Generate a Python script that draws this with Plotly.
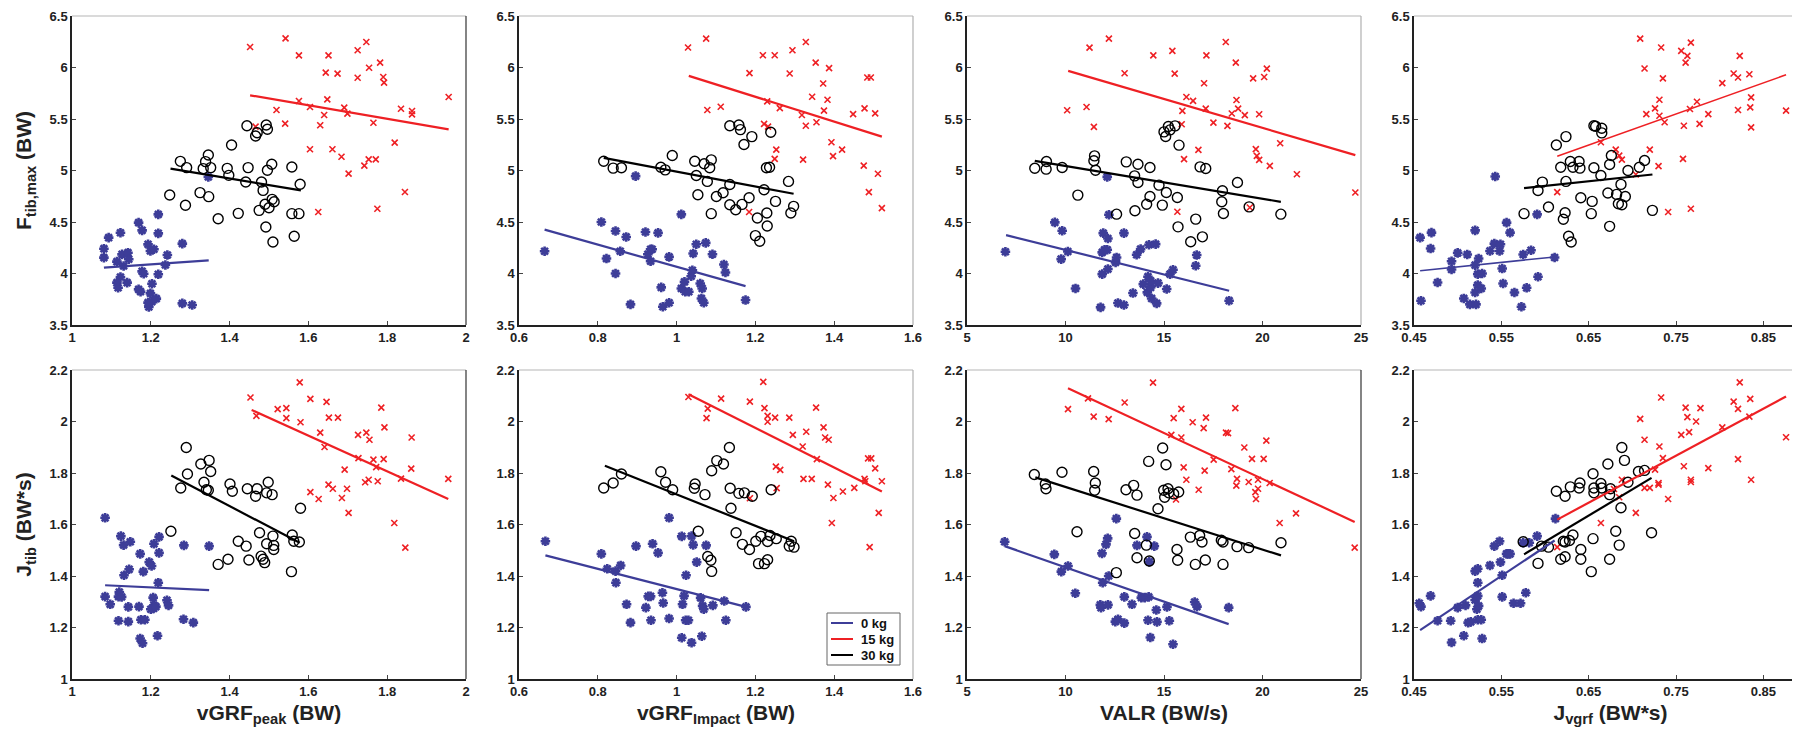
import plotly.graph_objects as go

# ---------------- tick labels ----------------
X_TICKS = [
    ([1, 1.2, 1.4, 1.6, 1.8, 2], ["1", "1.2", "1.4", "1.6", "1.8", "2"]),
    ([0.6, 0.8, 1, 1.2, 1.4, 1.6], ["0.6", "0.8", "1", "1.2", "1.4", "1.6"]),
    ([5, 10, 15, 20, 25], ["5", "10", "15", "20", "25"]),
    ([0.45, 0.55, 0.65, 0.75, 0.85], ["0.45", "0.55", "0.65", "0.75", "0.85"]),
]
X_RANGES = [[1, 2], [0.6, 1.6], [5, 25], [0.45, 0.9]]
Y_TICKS = [
    ([3.5, 4, 4.5, 5, 5.5, 6, 6.5], ["3.5", "4", "4.5", "5", "5.5", "6", "6.5"]),
    ([1, 1.2, 1.4, 1.6, 1.8, 2, 2.2], ["1", "1.2", "1.4", "1.6", "1.8", "2", "2.2"]),
]
Y_RANGES = [[3.5, 6.5], [1, 2.2]]
X_TITLES = ["vGRF<sub>peak</sub> (BW)", "vGRF<sub>Impact</sub> (BW)", "VALR (BW/s)", "J<sub>vgrf</sub> (BW*s)"]
Y_TITLES = ["F<sub>tib,max</sub> (BW)", "J<sub>tib</sub> (BW*s)"]
GROUPS = ["0 kg", "15 kg", "30 kg"]

# ---------------- data: (x, y) pairs per panel & group ----------------
# Panel A: vGRF_peak vs F_tib,max
A_0kg = [(1.081,4.241),(1.081,4.154),(1.093,4.348),(1.123,4.396),(1.127,4.186),(1.114,4.115),(1.142,4.202),
         (1.144,4.138),(1.123,3.966),(1.114,3.911),(1.117,3.862),(1.140,3.911),(1.131,4.073),(1.169,4.494),
         (1.178,4.419),(1.193,4.283),(1.199,4.218),(1.208,4.235),(1.219,4.390),(1.219,4.574),(1.178,4.021),
         (1.182,3.998),(1.169,3.846),(1.174,3.824),(1.203,3.901),(1.199,3.807),(1.219,3.992),(1.237,4.083),
         (1.242,4.180),(1.280,4.290),(1.195,3.675),(1.203,3.727),(1.214,3.756),(1.193,3.717),(1.280,3.710),
         (1.305,3.694),(1.346,4.937)]
A_15kg = [(1.452,6.199),(1.542,6.283),(1.576,6.118),(1.651,6.118),(1.644,5.950),(1.674,5.940),(1.725,6.167),
          (1.747,6.248),(1.725,5.901),(1.754,5.998),(1.782,6.047),(1.790,5.908),(1.792,5.853),(1.576,5.675),
          (1.648,5.691),(1.519,5.587),(1.604,5.617),(1.691,5.610),(1.699,5.552),(1.640,5.539),(1.835,5.600),
          (1.863,5.578),(1.863,5.545),(1.956,5.714),(1.466,5.426),(1.541,5.455),(1.630,5.439),(1.765,5.464),
          (1.819,5.270),(1.604,5.206),(1.661,5.206),(1.684,5.134),(1.702,4.969),(1.742,5.047),(1.753,5.108),
          (1.771,5.108),(1.625,4.597),(1.775,4.629),(1.845,4.791)]
A_30kg = [(1.248,4.762),(1.275,5.089),(1.291,5.028),(1.288,4.662),(1.325,4.785),(1.347,4.746),(1.333,5.018),
          (1.339,5.086),(1.346,5.150),(1.352,5.028),(1.371,4.532),(1.394,5.021),(1.398,4.953),(1.405,5.248),
          (1.422,4.584),(1.441,4.888),(1.447,5.028),(1.444,5.435),(1.466,5.335),(1.470,5.367),(1.475,4.613),
          (1.481,4.888),(1.485,4.807),(1.490,4.672),(1.492,4.451),(1.493,5.442),(1.496,5.400),(1.496,5.002),
          (1.500,4.639),(1.507,5.060),(1.508,4.720),(1.513,4.697),(1.510,4.306),(1.558,5.034),(1.558,4.581),
          (1.564,4.361),(1.576,4.581),(1.579,4.866)]
A_fit_0kg = [(1.081,4.057),(1.347,4.128)]
A_fit_15kg = [(1.452,5.730),(1.956,5.400)]
A_fit_30kg = [(1.250,5.018),(1.581,4.807)]

# Panel B: vGRF_Impact vs F_tib,max
B_0kg = [(0.665,4.216),(0.809,4.500),(0.822,4.145),(0.845,4.413),(0.845,4.000),(0.872,4.355),(0.857,4.216),
         (0.883,3.700),(0.896,4.945),(0.921,4.403),(0.927,4.187),(0.934,4.235),(0.938,4.235),(0.934,4.119),
         (0.953,4.394),(0.961,3.865),(0.965,3.677),(0.981,4.161),(0.981,3.716),(1.012,4.574),(1.012,3.855),
         (1.020,3.919),(1.022,3.823),(1.031,3.823),(1.037,3.974),(1.040,4.032),(1.042,4.194),(1.050,4.284),
         (1.060,3.903),(1.065,3.855),(1.063,3.758),(1.069,3.716),(1.074,4.297),(1.091,4.187),(1.120,4.087),
         (1.124,4.010),(1.175,3.742)]
B_15kg = [(1.029,6.194),(1.075,6.281),(1.219,6.119),(1.249,6.119),(1.294,6.168),(1.328,6.248),(1.353,6.048),
          (1.387,5.994),(1.185,5.945),(1.287,5.942),(1.372,5.845),(1.344,5.716),(1.383,5.687),(1.230,5.671),
          (1.262,5.606),(1.078,5.587),(1.112,5.619),(1.318,5.539),(1.374,5.581),(1.448,5.548),(1.477,5.603),
          (1.504,5.555),(1.484,5.903),(1.493,5.903),(1.222,5.452),(1.232,5.426),(1.328,5.435),(1.355,5.468),
          (1.393,5.274),(1.253,5.203),(1.420,5.203),(1.249,5.113),(1.321,5.106),(1.397,5.139),(1.475,5.048),
          (1.511,4.968),(1.488,4.790),(1.521,4.635),(1.184,4.597)]
B_30kg = [(0.815,5.090),(0.839,5.023),(0.860,5.026),(0.960,5.032),(0.971,5.006),(0.989,5.145),(1.046,5.090),
          (1.070,5.065),(1.088,5.103),(1.084,5.026),(1.050,4.952),(1.078,4.894),(1.054,4.765),(1.101,4.748),
          (1.118,4.784),(1.088,4.581),(1.135,5.435),(1.158,5.442),(1.162,5.397),(1.171,5.252),(1.191,5.329),
          (1.135,4.668),(1.150,4.619),(1.166,4.671),(1.184,4.735),(1.205,4.539),(1.200,4.368),(1.211,4.313),
          (1.222,4.813),(1.229,4.587),(1.230,4.461),(1.228,5.026),(1.236,5.032),(1.239,5.371),(1.251,4.700),
          (1.284,4.894),(1.290,4.587),(1.297,4.652),(1.135,4.864)]
B_fit_0kg = [(0.665,4.426),(1.175,3.877)]
B_fit_15kg = [(1.031,5.919),(1.521,5.329)]
B_fit_30kg = [(0.815,5.123),(1.297,4.774)]

# Panel C: VALR vs F_tib,max
C_0kg = [(6.949,4.211),(9.458,4.496),(9.831,4.415),(9.780,4.140),(10.119,4.214),(10.508,3.855),(11.780,3.671),
         (11.864,3.994),(11.864,4.205),(11.983,4.230),(12.119,4.230),(12.153,4.043),(11.915,4.392),(12.153,4.340),
         (12.119,4.938),(12.203,4.570),(12.593,4.156),(12.542,4.108),(12.661,3.713),(12.966,3.694),(12.966,4.392),
         (13.424,3.810),(13.610,4.182),(13.814,4.237),(14.186,3.969),(14.237,4.279),(13.949,3.897),(14.153,3.817),
         (14.322,3.865),(14.322,3.930),(14.373,3.758),(14.576,4.285),(14.627,3.710),(14.695,3.907),(15.136,3.849),
         (15.305,3.994),(15.458,4.036),(16.610,4.075),(16.661,4.179),(18.305,3.736)]
C_15kg = [(11.220,6.193),(12.203,6.280),(14.458,6.118),(15.424,6.161),(17.153,6.118),(18.136,6.248),(13.000,5.944),
          (15.542,5.941),(17.034,5.847),(18.644,6.047),(20.220,5.989),(19.525,5.895),(20.085,5.908),(16.136,5.714),
          (16.475,5.676),(18.678,5.685),(10.085,5.585),(11.068,5.617),(15.932,5.579),(17.119,5.601),(18.441,5.553),
          (18.763,5.601),(19.102,5.537),(19.831,5.546),(11.441,5.423),(15.898,5.449),(17.508,5.465),(18.220,5.433),
          (20.898,5.265),(16.746,5.200),(19.661,5.207),(16.017,5.110),(19.712,5.142),(19.831,5.103),(20.373,5.045),
          (21.746,4.964),(24.712,4.786),(15.678,4.599),(19.356,4.641)]
C_30kg = [(8.441,5.022),(9.034,5.087),(9.017,5.013),(9.831,5.029),(10.627,4.761),(11.441,5.094),(11.475,5.142),
          (11.525,5.003),(12.593,4.576),(13.085,5.084),(13.678,5.061),(14.288,5.029),(13.508,4.948),(13.678,4.883),
          (13.525,4.609),(14.119,4.673),(14.288,4.748),(14.746,4.858),(14.915,4.664),(15.119,4.786),(15.678,4.738),
          (15.712,4.453),(15.000,5.375),(15.085,5.330),(15.220,5.427),(15.305,5.394),(15.559,5.433),(15.763,5.246),
          (16.356,4.308),(16.610,4.528),(16.949,4.356),(16.831,5.035),(17.119,5.019),(17.966,4.803),(17.932,4.696),
          (18.017,4.583),(18.729,4.883),(19.322,4.647),(20.932,4.576)]
C_fit_0kg = [(6.983,4.373),(18.305,3.833)]
C_fit_15kg = [(10.136,5.967),(24.712,5.149)]
C_fit_30kg = [(8.441,5.094),(20.932,4.696)]

# Panel D: J_vgrf vs F_tib,max
D_0kg = [(0.457,4.348),(0.458,3.735),(0.469,4.242),(0.470,4.397),(0.477,3.913),(0.493,4.039),(0.493,4.119),
         (0.500,4.200),(0.507,3.758),(0.511,4.184),(0.514,3.700),(0.520,4.081),(0.520,4.419),(0.520,3.816),
         (0.521,3.700),(0.523,3.887),(0.523,3.994),(0.524,4.145),(0.527,3.855),(0.528,4.000),(0.537,4.219),
         (0.542,4.290),(0.543,4.942),(0.548,4.219),(0.549,4.284),(0.551,4.048),(0.552,3.903),(0.556,4.494),
         (0.560,4.397),(0.565,3.816),(0.573,3.677),(0.575,4.184),(0.579,3.861),(0.584,4.226),(0.591,4.574),
         (0.592,3.968),(0.611,4.155)]
D_15kg = [(0.709,6.281),(0.733,6.194),(0.756,6.161),(0.767,6.242),(0.763,6.113),(0.761,6.048),(0.823,6.113),
          (0.714,5.990),(0.735,5.894),(0.816,5.942),(0.821,5.903),(0.834,5.935),(0.803,5.848),(0.731,5.687),
          (0.774,5.668),(0.836,5.710),(0.726,5.603),(0.716,5.548),(0.731,5.532),(0.737,5.468),(0.766,5.597),
          (0.787,5.548),(0.821,5.587),(0.835,5.613),(0.759,5.435),(0.777,5.452),(0.836,5.419),(0.664,5.274),
          (0.681,5.203),(0.685,5.145),(0.688,5.106),(0.720,5.203),(0.730,5.042),(0.758,5.113),(0.704,4.961),
          (0.614,4.790),(0.741,4.597),(0.767,4.629),(0.876,5.581)]
D_30kg = [(0.576,4.581),(0.592,4.806),(0.597,4.887),(0.604,4.645),(0.613,5.248),(0.618,5.032),(0.624,5.329),
          (0.624,4.894),(0.621,4.526),(0.623,4.590),(0.627,4.361),(0.630,4.306),(0.629,5.087),(0.632,5.032),
          (0.639,5.087),(0.640,5.023),(0.641,4.735),(0.653,4.581),(0.654,4.700),(0.656,5.026),(0.656,5.435),
          (0.658,5.429),(0.665,5.410),(0.665,5.365),(0.664,4.952),(0.672,4.781),(0.674,5.058),(0.674,4.458),
          (0.676,5.145),(0.682,4.768),(0.684,4.677),(0.687,4.865),(0.688,4.668),(0.692,4.748),(0.695,5.000),
          (0.708,5.032),(0.714,5.097),(0.723,4.613)]
D_fit_0kg = [(0.457,4.026),(0.611,4.161)]
D_fit_15kg = [(0.614,5.139),(0.876,5.929)]
D_fit_30kg = [(0.576,4.829),(0.723,4.961)]

# Panel E: vGRF_peak vs J_tib
E_0kg = [(1.084,1.626),(1.084,1.320),(1.097,1.290),(1.124,1.555),(1.131,1.520),(1.120,1.338),(1.118,1.320),
         (1.126,1.319),(1.132,1.403),(1.145,1.426),(1.148,1.533),(1.143,1.280),(1.118,1.226),(1.143,1.223),
         (1.173,1.486),(1.170,1.281),(1.181,1.417),(1.175,1.230),(1.185,1.230),(1.173,1.157),(1.179,1.139),
         (1.196,1.454),(1.202,1.439),(1.208,1.525),(1.207,1.274),(1.208,1.286),(1.200,1.271),(1.206,1.316),
         (1.213,1.281),(1.219,1.374),(1.221,1.490),(1.221,1.552),(1.217,1.168),(1.241,1.306),(1.245,1.286),
         (1.284,1.519),(1.283,1.232),(1.308,1.219),(1.348,1.516)]
E_15kg = [(1.453,2.093),(1.468,2.022),(1.522,2.048),(1.544,2.052),(1.544,2.013),(1.578,2.152),(1.580,1.997),
          (1.605,2.088),(1.646,2.076),(1.652,2.015),(1.675,2.015),(1.630,1.957),(1.641,1.901),(1.726,1.948),
          (1.747,1.957),(1.755,1.929),(1.785,2.054),(1.793,1.977),(1.862,1.938),(1.727,1.858),(1.765,1.852),
          (1.791,1.854),(1.772,1.823),(1.692,1.813),(1.753,1.774),(1.776,1.768),(1.835,1.778),(1.861,1.817),
          (1.955,1.777),(1.651,1.755),(1.662,1.739),(1.698,1.739),(1.605,1.726),(1.626,1.699),(1.685,1.703),
          (1.702,1.645),(1.818,1.606),(1.846,1.510),(1.744,1.764)]
E_30kg = [(1.251,1.574),(1.276,1.742),(1.290,1.899),(1.293,1.796),(1.327,1.835),(1.335,1.764),(1.341,1.735),
          (1.348,1.849),(1.352,1.806),(1.346,1.733),(1.371,1.445),(1.396,1.465),(1.401,1.757),(1.407,1.729),
          (1.422,1.535),(1.442,1.516),(1.445,1.739),(1.449,1.462),(1.470,1.739),(1.466,1.710),(1.476,1.568),
          (1.480,1.477),(1.485,1.465),(1.489,1.452),(1.494,1.525),(1.498,1.764),(1.494,1.723),(1.508,1.716),
          (1.512,1.519),(1.512,1.503),(1.510,1.555),(1.557,1.417),(1.559,1.559),(1.563,1.535),(1.577,1.532),
          (1.580,1.663)]
E_fit_0kg = [(1.084,1.364),(1.348,1.345)]
E_fit_15kg = [(1.456,2.045),(1.955,1.699)]
E_fit_30kg = [(1.252,1.790),(1.578,1.529)]

# Panel F: vGRF_Impact vs J_tib
F_0kg = [(0.667,1.535),(0.809,1.486),(0.824,1.428),(0.845,1.419),(0.846,1.374),(0.858,1.441),(0.873,1.290),
         (0.883,1.219),(0.897,1.516),(0.922,1.277),(0.928,1.321),(0.934,1.321),(0.935,1.228),(0.939,1.525),
         (0.953,1.490),(0.964,1.335),(0.966,1.295),(0.981,1.235),(0.981,1.626),(1.013,1.554),(1.015,1.290),
         (1.019,1.323),(1.013,1.160),(1.023,1.228),(1.030,1.228),(1.024,1.403),(1.038,1.555),(1.038,1.141),
         (1.042,1.521),(1.051,1.454),(1.061,1.315),(1.064,1.166),(1.066,1.284),(1.069,1.271),(1.075,1.519),
         (1.092,1.286),(1.121,1.303),(1.125,1.228),(1.176,1.280)]
F_15kg = [(1.030,2.095),(1.079,2.050),(1.076,2.013),(1.113,2.089),(1.186,2.077),(1.220,2.154),(1.223,2.052),
          (1.231,2.022),(1.231,1.999),(1.250,2.015),(1.286,2.015),(1.295,1.948),(1.329,1.960),(1.354,2.054),
          (1.373,1.977),(1.377,1.938),(1.386,1.929),(1.320,1.903),(1.356,1.854),(1.486,1.857),(1.494,1.857),
          (1.504,1.818),(1.252,1.825),(1.263,1.812),(1.322,1.777),(1.343,1.777),(1.384,1.755),(1.398,1.703),
          (1.422,1.728),(1.451,1.742),(1.477,1.777),(1.479,1.768),(1.521,1.768),(1.254,1.741),(1.186,1.702),
          (1.394,1.606),(1.513,1.645),(1.490,1.512)]
F_30kg = [(0.815,1.742),(0.839,1.761),(0.860,1.796),(0.960,1.805),(0.972,1.764),(0.990,1.735),(1.047,1.757),
          (1.045,1.741),(1.072,1.716),(1.089,1.809),(1.102,1.848),(1.119,1.835),(1.134,1.899),(1.136,1.741),
          (1.138,1.663),(1.055,1.574),(1.079,1.476),(1.087,1.461),(1.089,1.418),(1.151,1.568),(1.167,1.523),
          (1.172,1.723),(1.158,1.721),(1.185,1.503),(1.192,1.710),(1.201,1.535),(1.208,1.448),(1.214,1.554),
          (1.223,1.448),(1.231,1.534),(1.231,1.463),(1.237,1.557),(1.240,1.735),(1.253,1.545),(1.286,1.516),
          (1.291,1.535),(1.298,1.512)]
F_fit_0kg = [(0.667,1.480),(1.176,1.280)]
F_fit_15kg = [(1.030,2.106),(1.521,1.728)]
F_fit_30kg = [(0.818,1.828),(1.298,1.535)]

# Panel G: VALR vs J_tib
G_0kg = [(6.912,1.533),(9.433,1.484),(9.788,1.417),(10.127,1.439),(10.499,1.333),(11.853,1.488),(12.056,1.523),
         (12.140,1.546),(12.191,1.400),(11.887,1.374),(11.768,1.288),(11.802,1.277),(12.157,1.288),(12.530,1.223),
         (12.665,1.232),(12.986,1.217),(12.580,1.623),(12.986,1.319),(13.376,1.290),(13.629,1.519),(13.849,1.316),
         (14.019,1.316),(14.222,1.319),(14.137,1.552),(14.509,1.516),(14.188,1.228),(14.306,1.161),(14.611,1.268),
         (14.645,1.222),(15.152,1.280),(15.271,1.226),(15.457,1.135),(16.557,1.299),(16.675,1.281),(18.283,1.277),
         (14.255,1.455)]
G_15kg = [(10.127,2.048),(11.142,2.090),(11.430,2.019),(12.191,2.009),(13.003,2.074),(14.442,2.151),(15.491,2.013),
          (15.880,2.049),(15.880,1.938),(16.455,1.997),(17.013,1.974),(17.132,2.015),(15.372,1.948),(18.147,1.957),
          (18.249,1.955),(18.621,2.052),(19.078,1.899),(19.467,1.855),(20.059,1.855),(20.195,1.926),(15.998,1.822),
          (16.134,1.774),(17.064,1.809),(17.521,1.852),(18.418,1.815),(18.706,1.777),(18.672,1.751),(19.298,1.765),
          (19.772,1.774),(19.772,1.739),(19.636,1.726),(19.670,1.699),(20.364,1.761),(16.760,1.735),(15.609,1.697),
          (20.871,1.606),(21.701,1.643),(24.679,1.510)]
G_30kg = [(8.418,1.794),(8.976,1.757),(9.010,1.739),(9.822,1.803),(10.584,1.572),(11.430,1.806),(11.514,1.761),
          (11.481,1.733),(12.580,1.413),(13.071,1.735),(13.460,1.752),(13.629,1.714),(13.511,1.565),(13.629,1.471),
          (14.103,1.520),(14.255,1.458),(14.222,1.845),(14.695,1.661),(14.932,1.897),(15.102,1.832),(14.983,1.733),
          (15.034,1.706),(15.203,1.739),(15.237,1.723),(15.491,1.719),(15.745,1.726),(15.660,1.503),(15.694,1.461),
          (16.337,1.551),(16.591,1.445),(16.810,1.557),(16.929,1.532),(17.098,1.462),(17.910,1.539),(17.995,1.532),
          (17.995,1.445),(18.706,1.514),(19.298,1.510),(20.939,1.529)]
G_fit_0kg = [(6.912,1.516),(18.283,1.213)]
G_fit_15kg = [(10.127,2.129),(24.679,1.610)]
G_fit_30kg = [(8.469,1.783),(20.939,1.480)]

# Panel H: J_vgrf vs J_tib
H_0kg = [(0.456,1.294),(0.458,1.281),(0.469,1.323),(0.477,1.226),(0.492,1.226),(0.493,1.142),(0.500,1.277),
         (0.507,1.168),(0.509,1.286),(0.512,1.219),(0.515,1.222),(0.520,1.419),(0.520,1.307),(0.522,1.271),
         (0.523,1.428),(0.523,1.374),(0.523,1.323),(0.524,1.284),(0.523,1.230),(0.527,1.230),(0.528,1.157),
         (0.537,1.441),(0.542,1.516),(0.548,1.535),(0.549,1.454),(0.551,1.319),(0.551,1.403),(0.556,1.486),
         (0.558,1.486),(0.560,1.486),(0.564,1.294),(0.572,1.294),(0.578,1.335),(0.582,1.529),(0.591,1.555),
         (0.612,1.623),(0.575,1.529)]
H_15kg = [(0.614,1.512),(0.664,1.606),(0.685,1.706),(0.688,1.774),(0.704,1.645),(0.709,2.010),(0.714,1.929),
          (0.720,1.742),(0.714,1.742),(0.726,1.813),(0.731,1.903),(0.730,1.761),(0.730,1.755),(0.733,2.093),
          (0.735,1.858),(0.741,1.699),(0.756,1.948),(0.759,1.826),(0.761,2.054),(0.763,2.017),(0.765,1.959),
          (0.767,1.774),(0.767,1.765),(0.773,2.000),(0.778,2.052),(0.787,1.819),(0.803,1.977),(0.816,2.077),
          (0.821,2.049),(0.821,1.854),(0.823,2.152),(0.834,2.019),(0.835,2.088),(0.836,1.774),(0.876,1.939),
          (0.679,1.738)]
H_30kg = [(0.575,1.533),(0.592,1.449),(0.596,1.516),(0.604,1.512),(0.613,1.729),(0.618,1.465),(0.623,1.710),
          (0.623,1.475),(0.629,1.746),(0.621,1.535),(0.623,1.532),(0.628,1.538),(0.632,1.559),(0.639,1.742),
          (0.640,1.761),(0.641,1.503),(0.641,1.465),(0.655,1.797),(0.656,1.742),(0.656,1.723),(0.655,1.545),
          (0.653,1.417),(0.664,1.759),(0.665,1.742),(0.672,1.835),(0.675,1.739),(0.674,1.716),(0.674,1.465),
          (0.681,1.574),(0.685,1.520),(0.687,1.665),(0.688,1.899),(0.691,1.849),(0.695,1.764),(0.707,1.806),
          (0.714,1.810),(0.722,1.568)]
H_fit_0kg = [(0.457,1.190),(0.611,1.538)]
H_fit_15kg = [(0.614,1.619),(0.876,2.097)]
H_fit_30kg = [(0.576,1.484),(0.722,1.781)]

PANELS = [
    (A_0kg, A_15kg, A_30kg, A_fit_0kg, A_fit_15kg, A_fit_30kg),
    (B_0kg, B_15kg, B_30kg, B_fit_0kg, B_fit_15kg, B_fit_30kg),
    (C_0kg, C_15kg, C_30kg, C_fit_0kg, C_fit_15kg, C_fit_30kg),
    (D_0kg, D_15kg, D_30kg, D_fit_0kg, D_fit_15kg, D_fit_30kg),
    (E_0kg, E_15kg, E_30kg, E_fit_0kg, E_fit_15kg, E_fit_30kg),
    (F_0kg, F_15kg, F_30kg, F_fit_0kg, F_fit_15kg, F_fit_30kg),
    (G_0kg, G_15kg, G_30kg, G_fit_0kg, G_fit_15kg, G_fit_30kg),
    (H_0kg, H_15kg, H_30kg, H_fit_0kg, H_fit_15kg, H_fit_30kg),
]

# ---------------- styling ----------------
W, H = 1800, 737
COL_PX = [(64, 458), (511, 905), (959, 1353), (1406, 1799)]
ROW_PX = [(8, 317), (362, 671)]
BLUE, RED, BLACK = "#3d3d98", "#ee2024", "#000000"
GROUP_COLORS = [BLUE, RED, BLACK]
MARKERS = [
    dict(symbol="asterisk-open", size=8, color=BLUE, line=dict(color=BLUE, width=2.6)),
    dict(symbol="x-thin-open", size=6, color=RED, line=dict(color=RED, width=1.6)),
    dict(symbol="circle-open", size=10, color=BLACK, line=dict(color=BLACK, width=1.4)),
]
RIGHT_BORDER = ["#333333", "#b0b0b0", "#b0b0b0", "#b0b0b0", "#333333", "#b0b0b0", "#333333", "#b0b0b0"]
FAMILY = "Liberation Sans, Arial"
TICKFONT = dict(family=FAMILY, size=13, color="#222222", weight="bold")
TITLEFONT = dict(family=FAMILY, size=21, color="#222222", weight="bold")

fig = go.Figure()
layout = dict(
    width=W, height=H, margin=dict(l=0, r=0, t=0, b=0),
    paper_bgcolor="white", plot_bgcolor="white",
    showlegend=False,
)
shapes = []
annotations = []
for i, panel in enumerate(PANELS):
    r, c = divmod(i, 4)
    n = i + 1
    xa = "x" if n == 1 else f"x{n}"
    ya = "y" if n == 1 else f"y{n}"
    for g in range(3):
        pts = panel[g]
        fig.add_trace(go.Scatter(
            x=[p[0] for p in pts], y=[p[1] for p in pts], mode="markers", name=GROUPS[g],
            marker=MARKERS[g], xaxis=xa, yaxis=ya, cliponaxis=False))
    for g in range(3):
        fit = panel[3 + g]
        fig.add_trace(go.Scatter(
            x=[p[0] for p in fit], y=[p[1] for p in fit], mode="lines", name=GROUPS[g],
            line=dict(color=GROUP_COLORS[g], width=1.5 if c == 3 and r == 0 and g != 2 else 2.2),
            xaxis=xa, yaxis=ya))
    x0, x1 = COL_PX[c]
    ytop, ybot = ROW_PX[r]
    key_x = "xaxis" if n == 1 else f"xaxis{n}"
    key_y = "yaxis" if n == 1 else f"yaxis{n}"
    xaxis = dict(
        domain=[x0 / W, x1 / W], anchor=ya, range=X_RANGES[c],
        tickvals=X_TICKS[c][0], ticktext=X_TICKS[c][1],
        ticks="inside", ticklen=4, tickcolor="#444444", tickfont=TICKFONT,
        showline=True, linecolor="#222222", linewidth=1.5, showgrid=False, zeroline=False,
        automargin=False,
    )
    if r == 1:
        xaxis["title"] = dict(text=X_TITLES[c], font=TITLEFONT, standoff=7)
    yaxis = dict(
        domain=[1 - ybot / H, 1 - ytop / H], anchor=xa, range=Y_RANGES[r],
        tickvals=Y_TICKS[r][0], ticktext=Y_TICKS[r][1],
        ticks="inside", ticklen=4, tickcolor="#444444", tickfont=TICKFONT,
        showline=True, linecolor="#222222", linewidth=1.5, showgrid=False, zeroline=False,
        automargin=False,
    )
    if c == 0:
        yaxis["title"] = dict(text=Y_TITLES[r], font=TITLEFONT, standoff=12)
    layout[key_x] = xaxis
    layout[key_y] = yaxis
    # box frame: top and right edges
    shapes.append(dict(type="line", xref=f"{xa} domain", yref=f"{ya} domain",
                       x0=0, x1=1, y0=1, y1=1, line=dict(color="#b5b5b5", width=1)))
    shapes.append(dict(type="line", xref=f"{xa} domain", yref=f"{ya} domain",
                       x0=1, x1=1, y0=0, y1=1, line=dict(color=RIGHT_BORDER[i], width=1.2)))

# ---------------- legend (inside panel F, lower right) ----------------
LEG_BOX = (819, 605, 892, 657)
LEG_ROWS = [615, 631, 647]
shapes.append(dict(type="rect", xref="paper", yref="paper",
                   x0=LEG_BOX[0] / W, x1=LEG_BOX[2] / W, y0=1 - LEG_BOX[3] / H, y1=1 - LEG_BOX[1] / H,
                   line=dict(color="#666666", width=1), fillcolor="white", layer="above"))
for g, yy in enumerate(LEG_ROWS):
    shapes.append(dict(type="line", xref="paper", yref="paper",
                       x0=823 / W, x1=845 / W, y0=1 - yy / H, y1=1 - yy / H,
                       line=dict(color=GROUP_COLORS[g], width=2), layer="above"))
    annotations.append(dict(xref="paper", yref="paper", x=851 / W, y=1 - yy / H,
                            xanchor="left", yanchor="middle", showarrow=False, text=GROUPS[g],
                            font=dict(family=FAMILY, size=13, color="#111111", weight="bold")))
layout["shapes"] = shapes
layout["annotations"] = annotations
fig.update_layout(**layout)
fig.write_html("out.html")
